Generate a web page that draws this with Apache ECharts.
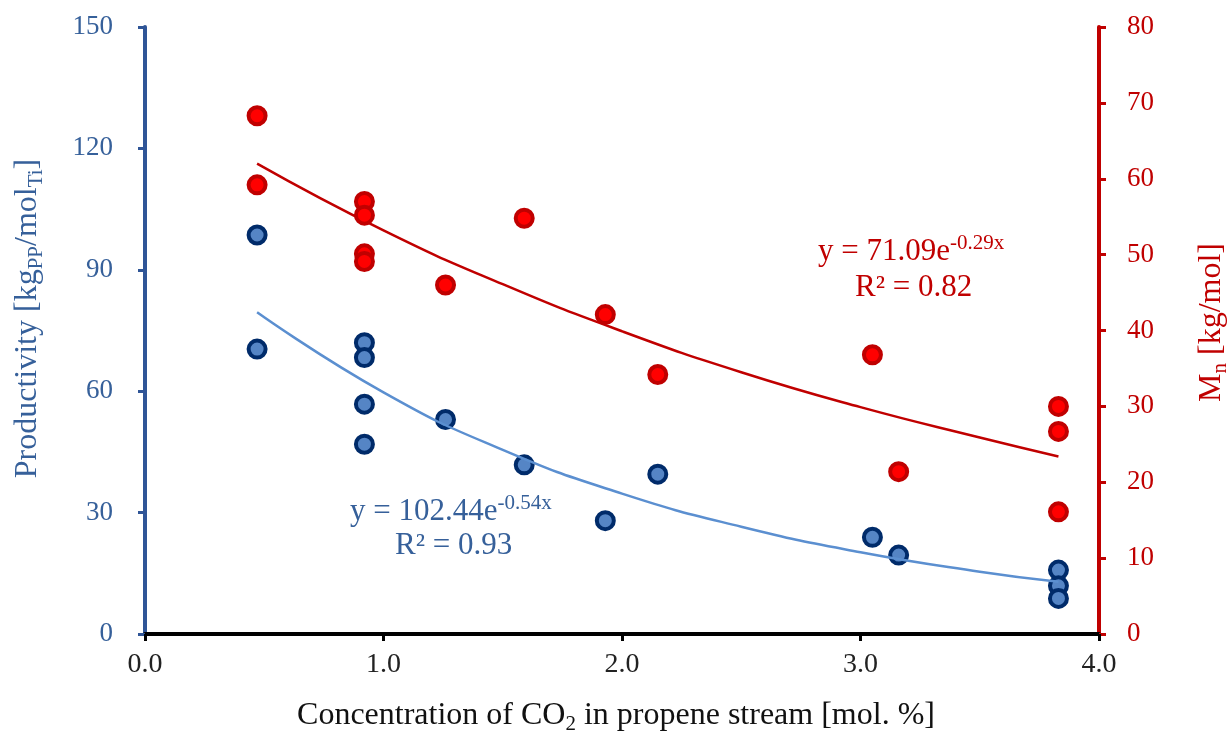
<!DOCTYPE html>
<html>
<head>
<meta charset="utf-8">
<script src="https://cdn.jsdelivr.net/npm/echarts@6/dist/echarts.min.js"></script>
<style>html,body{margin:0;padding:0;background:#fff}#c{width:1229px;height:731px}</style>
</head>
<body>
<div id="c"></div>
<script>
// CO2 concentration [mol.%] for productivity points
const prodX = [0.47, 0.47, 0.92, 0.92, 0.92, 0.92, 1.26, 1.59, 1.93, 2.15, 3.05, 3.16, 3.83, 3.83, 3.83];
const prodY = [98.6, 70.4, 72.0, 68.3, 56.8, 46.9, 53.0, 41.8, 28.0, 39.5, 23.9, 19.5, 15.8, 11.9, 8.8];
// CO2 concentration [mol.%] for Mn points
const mnX = [0.47, 0.47, 0.92, 0.92, 0.92, 0.92, 1.26, 1.59, 1.93, 2.15, 3.05, 3.16, 3.83, 3.83, 3.83];
const mnY = [68.3, 59.2, 57.0, 55.2, 50.1, 49.1, 46.0, 54.8, 42.1, 34.2, 36.8, 21.4, 30.0, 26.7, 16.1];
// trend lines
const trendX = [0.47, 1.0, 1.5, 2.0, 2.5, 3.0, 3.5, 3.83];
const prodTrend = [79.5, 59.7, 45.5, 34.7, 26.5, 20.2, 15.4, 12.9];
const mnTrend = [62.0, 53.2, 46.1, 39.9, 34.5, 29.9, 25.9, 23.4];
// axis ranges / ticks
const xTicks = [0, 4, 1];
const leftTicks = [0, 150, 30];
const rightTicks = [0, 80, 10];

const serif = '"Liberation Serif", "Times New Roman", serif';
const BLUE_AX = '#2F5597';
const BLUE_TXT = '#36609A';
const RED = '#C00000';

const zip = (a, b) => a.map((v, i) => [v, b[i]]);

const chart = echarts.init(document.getElementById('c'));
chart.setOption({
  backgroundColor: '#fff',
  animation: false,
  grid: { left: 145, right: 130, top: 27, bottom: 97, containLabel: false, outerBoundsMode: 'none' },
  xAxis: {
    type: 'value', min: xTicks[0], max: xTicks[1], interval: xTicks[2],
    axisLine: { show: true, onZero: false, lineStyle: { color: '#000', width: 4 } },
    axisTick: { show: true, inside: false, length: 7, lineStyle: { color: '#000', width: 3 } },
    splitLine: { show: false },
    axisLabel: { color: '#222', fontFamily: serif, fontSize: 28, margin: 17, formatter: v => v.toFixed(1) },
    name: '{a|Concentration of CO}{sub|2}{a| in propene stream [mol. %]}',
    nameLocation: 'middle', nameGap: 63,
    nameTextStyle: {
      padding: [0, 12, 0, 0],
      rich: {
        a: { fontFamily: serif, fontSize: 32, color: '#111', lineHeight: 38 },
        sub: { fontFamily: serif, fontSize: 21, color: '#111', lineHeight: 18, verticalAlign: 'bottom' }
      }
    }
  },
  yAxis: [
    {
      type: 'value', position: 'left', min: leftTicks[0], max: leftTicks[1], interval: leftTicks[2],
      axisLine: { show: true, onZero: false, lineStyle: { color: BLUE_AX, width: 4 } },
      axisTick: { show: true, length: 7, lineStyle: { color: BLUE_AX, width: 3 } },
      splitLine: { show: false },
      axisLabel: { color: BLUE_TXT, fontFamily: serif, fontSize: 27, margin: 32 },
      name: '{a|Productivity [kg}{sub|PP}{a|/mol}{sub|Ti}{a|]}',
      nameLocation: 'middle', nameGap: 98, nameRotate: 90,
      nameTextStyle: {
        padding: [0, 0, 0, 24],
        rich: {
          a: { fontFamily: serif, fontSize: 32, color: BLUE_TXT, lineHeight: 38 },
          sub: { fontFamily: serif, fontSize: 21, color: BLUE_TXT, lineHeight: 18, verticalAlign: 'bottom' }
        }
      }
    },
    {
      type: 'value', position: 'right', min: rightTicks[0], max: rightTicks[1], interval: rightTicks[2],
      axisLine: { show: true, onZero: false, lineStyle: { color: RED, width: 4 } },
      axisTick: { show: true, length: 7, lineStyle: { color: RED, width: 3 } },
      splitLine: { show: false },
      axisLabel: { color: RED, fontFamily: serif, fontSize: 27, margin: 28 },
      name: '{a|M}{sub|n}{a| [kg/mol]}',
      nameLocation: 'middle', nameGap: 94, nameRotate: 90,
      nameTextStyle: {
        padding: [0, 0, 0, 16],
        rich: {
          a: { fontFamily: serif, fontSize: 32, color: RED, lineHeight: 38 },
          sub: { fontFamily: serif, fontSize: 21, color: RED, lineHeight: 18, verticalAlign: 'bottom' }
        }
      }
    }
  ],
  series: [
    {
      type: 'line', yAxisIndex: 1, data: zip(trendX, mnTrend), smooth: true, showSymbol: false,
      lineStyle: { color: RED, width: 2.5 }, z: 2, silent: true
    },
    {
      type: 'scatter', yAxisIndex: 1, data: zip(mnX, mnY), symbol: 'circle', symbolSize: 17,
      itemStyle: { color: '#FF0000', borderColor: RED, borderWidth: 4, opacity: 1 }, z: 3
    },
    {
      type: 'scatter', yAxisIndex: 0, data: zip(prodX, prodY), symbol: 'circle', symbolSize: 17,
      itemStyle: { color: '#5585C5', borderColor: '#002B6A', borderWidth: 4, opacity: 1 }, z: 3
    },
    {
      type: 'line', yAxisIndex: 0, data: zip(trendX, prodTrend), smooth: true, showSymbol: false,
      lineStyle: { color: '#5B8FD0', width: 2.5 }, z: 4, silent: true
    }
  ],
  graphic: [
    {
      type: 'text', left: 818, top: 233,
      style: {
        text: '{a|y = 71.09e}{sup|-0.29x}',
        rich: {
          a: { fontFamily: serif, fontSize: 31, fill: RED, lineHeight: 38 },
          sup: { fontFamily: serif, fontSize: 21, fill: RED, lineHeight: 20, verticalAlign: 'top' }
        }
      }
    },
    {
      type: 'text', left: 855, top: 272,
      style: { text: 'R² = 0.82', font: '31px ' + serif, fill: RED }
    },
    {
      type: 'text', left: 350, top: 493,
      style: {
        text: '{a|y = 102.44e}{sup|-0.54x}',
        rich: {
          a: { fontFamily: serif, fontSize: 31, fill: BLUE_TXT, lineHeight: 38 },
          sup: { fontFamily: serif, fontSize: 21, fill: BLUE_TXT, lineHeight: 20, verticalAlign: 'top' }
        }
      }
    },
    {
      type: 'text', left: 395, top: 530,
      style: { text: 'R² = 0.93', font: '31px ' + serif, fill: BLUE_TXT }
    }
  ]
});
</script>
</body>
</html>
